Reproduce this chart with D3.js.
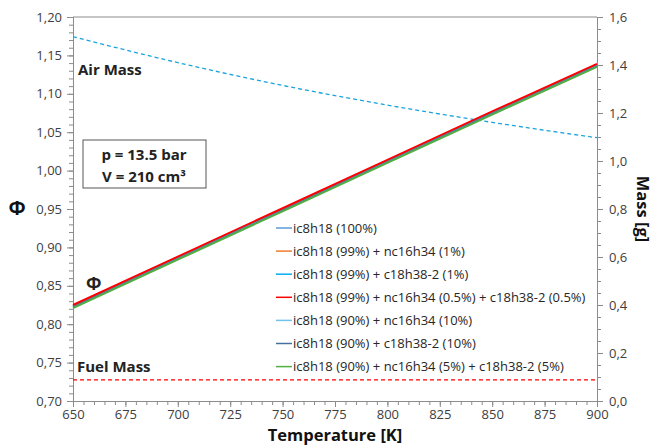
<!DOCTYPE html>
<html>
<head>
<meta charset="utf-8">
<script src="https://cdn.jsdelivr.net/npm/d3@7"></script>
<style>
  body { margin: 0; background: #fff; }
  svg text { font-family: "Open Sans", "Liberation Sans", sans-serif; }
</style>
</head>
<body>
<div id="chart"></div>
<script>
var width = 656, height = 445;
var margin = {top: 17, right: 59, bottom: 44, left: 73};

// temperatures [K]
var temps = [650, 700, 750, 800, 850, 900];

// equivalence ratio per mixture (nearly identical)
var seriesNames = [
  "ic8h18 (100%)",
  "ic8h18 (99%) + nc16h34 (1%)",
  "ic8h18 (99%) + c18h38-2 (1%)",
  "ic8h18 (99%) + nc16h34 (0.5%) + c18h38-2 (0.5%)",
  "ic8h18 (90%) + nc16h34 (10%)",
  "ic8h18 (90%) + c18h38-2 (10%)",
  "ic8h18 (90%) + nc16h34 (5%) + c18h38-2 (5%)"
];
var seriesColors = ["#5b9bd5", "#ed7d31", "#00b0f0", "#ff0000", "#70c4ec", "#44709d", "#52b043"];
var seriesWidths = [1.5, 1.5, 1.5, 2, 1.5, 1.5, 2];
var phiValues = [
  [0.824, 0.887, 0.950, 1.013, 1.076, 1.138],
  [0.824, 0.887, 0.950, 1.013, 1.076, 1.138],
  [0.824, 0.887, 0.950, 1.013, 1.076, 1.138],
  [0.825, 0.888, 0.951, 1.014, 1.077, 1.139],
  [0.822, 0.885, 0.948, 1.011, 1.074, 1.136],
  [0.822, 0.885, 0.948, 1.011, 1.074, 1.136],
  [0.821, 0.884, 0.947, 1.010, 1.073, 1.135]
];
// draw order: green under red
var drawOrder = [0, 1, 2, 4, 5, 6, 3];

// masses [g]
var airMass = [1.518, 1.410, 1.315, 1.233, 1.161, 1.097];
var fuelMass = [0.088, 0.088, 0.088, 0.088, 0.088, 0.088];

var xTicks = d3.range(650, 901, 25);
var yTicks = d3.range(0.70, 1.2001, 0.05);
var y2Ticks = d3.range(0, 1.6001, 0.2);

var svg = d3.select("#chart").append("svg")
  .attr("width", width).attr("height", height);

var x = d3.scaleLinear().domain([650, 900]).range([margin.left, width - margin.right]);
var y = d3.scaleLinear().domain([0.70, 1.20]).range([height - margin.bottom, margin.top]);
var y2 = d3.scaleLinear().domain([0, 1.6]).range([height - margin.bottom, margin.top]);

var comma = function(dec) {
  return function(d) { return d.toFixed(dec).replace(".", ","); };
};
var axisColor = "#8c8c8c";

// minor ticks
var minorX = d3.axisBottom(x).tickValues(d3.range(650, 901, 5)).tickSize(4).tickFormat("");
var minorY = d3.axisLeft(y).tickValues(d3.range(0.70, 1.2001, 0.01)).tickSize(4).tickFormat("");
var minorY2 = d3.axisRight(y2).tickValues(d3.range(0, 1.6001, 0.05)).tickSize(4).tickFormat("");

svg.append("g").attr("class", "axis").attr("transform", "translate(0," + (height - margin.bottom) + ")").call(minorX);
svg.append("g").attr("class", "axis").attr("transform", "translate(" + margin.left + ",0)").call(minorY);
svg.append("g").attr("class", "axis").attr("transform", "translate(" + (width - margin.right) + ",0)").call(minorY2);

svg.append("g").attr("class", "axis major")
  .attr("transform", "translate(0," + (height - margin.bottom) + ")")
  .call(d3.axisBottom(x).tickValues(xTicks).tickSize(6).tickPadding(3).tickFormat(d3.format("d")));
svg.append("g").attr("class", "axis major")
  .attr("transform", "translate(" + margin.left + ",0)")
  .call(d3.axisLeft(y).tickValues(yTicks).tickSize(6).tickPadding(5).tickFormat(comma(2)));
svg.append("g").attr("class", "axis major")
  .attr("transform", "translate(" + (width - margin.right) + ",0)")
  .call(d3.axisRight(y2).tickValues(y2Ticks).tickSize(6).tickPadding(6).tickFormat(comma(1)));

svg.selectAll(".axis path, .axis line").attr("stroke", axisColor);
svg.selectAll(".axis text").attr("fill", "#404040").style("font-size", "13px");

// top border
svg.append("line")
  .attr("x1", margin.left).attr("x2", width - margin.right)
  .attr("y1", margin.top).attr("y2", margin.top)
  .attr("stroke", axisColor);

var line = d3.line().x(function(d, i) { return x(temps[i]); }).y(function(d) { return y(d); });
var line2 = d3.line().x(function(d, i) { return x(temps[i]); }).y(function(d) { return y2(d); }).curve(d3.curveMonotoneX);

svg.append("path").datum(airMass)
  .attr("d", line2).attr("fill", "none")
  .attr("stroke", "#1ca3dc").attr("stroke-width", 1.3).attr("stroke-dasharray", "4,3");
svg.append("path").datum(fuelMass)
  .attr("d", line2).attr("fill", "none")
  .attr("stroke", "#ff0000").attr("stroke-width", 1.3).attr("stroke-dasharray", "4,3");

drawOrder.forEach(function(k) {
  svg.append("path").datum(phiValues[k])
    .attr("d", line).attr("fill", "none")
    .attr("stroke", seriesColors[k]).attr("stroke-width", seriesWidths[k]);
});

// legend
var legend = svg.append("g").attr("transform", "translate(276,228)");
seriesNames.forEach(function(name, i) {
  var g = legend.append("g").attr("transform", "translate(0," + (i * 23.1) + ")");
  g.append("line").attr("x1", 0).attr("x2", 16).attr("y1", 0).attr("y2", 0)
    .attr("stroke", seriesColors[i]).attr("stroke-width", 1.5);
  g.append("text").attr("x", 17).attr("y", 4.5)
    .style("font-size", "13px").attr("fill", "#262626").text(name);
});

// annotations
svg.append("text").attr("x", 78).attr("y", 75)
  .style("font-size", "15px").style("font-weight", "bold").attr("fill", "#222").text("Air Mass");
svg.append("text").attr("x", 77).attr("y", 372)
  .style("font-size", "15px").style("font-weight", "bold").attr("fill", "#222").text("Fuel Mass");
svg.append("text").attr("x", 86).attr("y", 290)
  .style("font-size", "18px").style("font-weight", "bold").attr("fill", "#222").text("Φ");

svg.append("rect").attr("x", 83).attr("y", 140).attr("width", 123).attr("height", 48)
  .attr("fill", "#fff").attr("stroke", "#555").attr("stroke-width", 1);
svg.append("text").attr("x", 144).attr("y", 160).attr("text-anchor", "middle")
  .style("font-size", "15px").style("font-weight", "bold").attr("fill", "#222").text("p = 13.5 bar");
svg.append("text").attr("x", 144).attr("y", 182).attr("text-anchor", "middle")
  .style("font-size", "15px").style("font-weight", "bold").attr("fill", "#222").text("V = 210 cm³");

// axis titles
svg.append("text").attr("x", (margin.left + width - margin.right) / 2).attr("y", 441)
  .attr("text-anchor", "middle").style("font-size", "16.5px").style("font-weight", "bold")
  .attr("fill", "#111").text("Temperature [K]");
svg.append("text").attr("x", 17).attr("y", 215).attr("text-anchor", "middle")
  .style("font-size", "20px").style("font-weight", "bold").attr("fill", "#111").text("Φ");
svg.append("text")
  .attr("transform", "translate(637," + ((margin.top + height - margin.bottom) / 2) + ") rotate(90)")
  .attr("text-anchor", "middle").style("font-size", "16.5px").style("font-weight", "bold")
  .attr("fill", "#111").text("Mass [g]");
</script>
</body>
</html>
